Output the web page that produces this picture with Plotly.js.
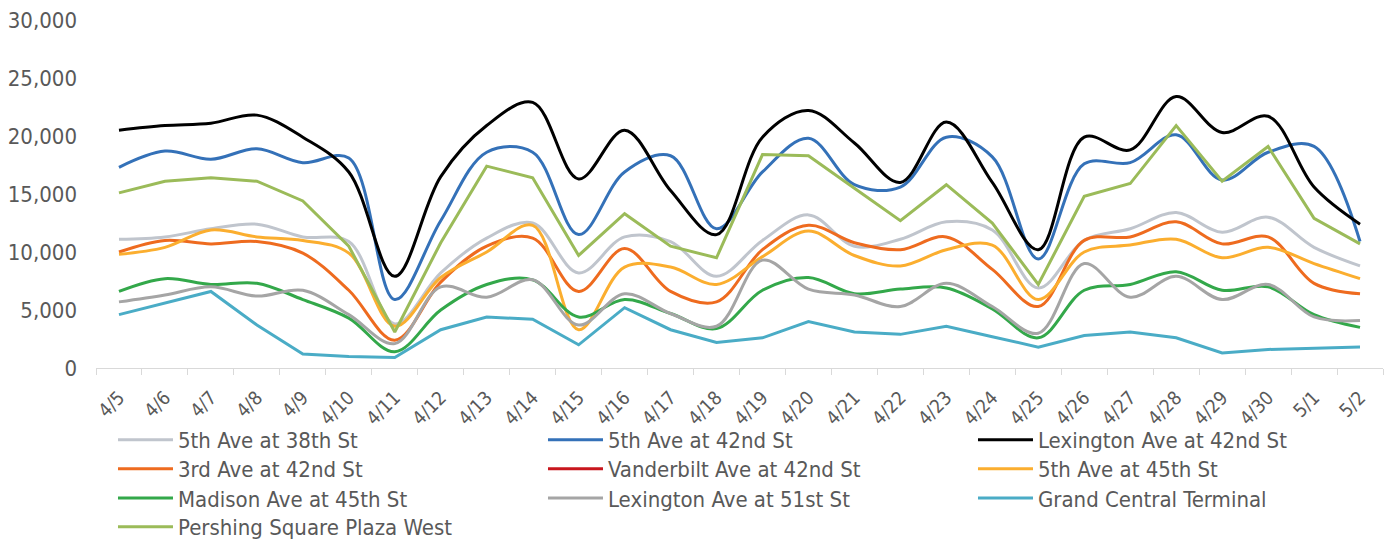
<!DOCTYPE html>
<html>
<head>
<meta charset="utf-8">
<script src="https://cdn.plot.ly/plotly-3.0.1.min.js"></script>
<style>html,body{margin:0;padding:0;background:#fff;}#chart{width:1390px;height:541px;}</style>
</head>
<body>
<div id="chart"></div>
<script>
var dates = ["4/5","4/6","4/7","4/8","4/9","4/10","4/11","4/12","4/13","4/14","4/15","4/16","4/17","4/18","4/19","4/20","4/21","4/22","4/23","4/24","4/25","4/26","4/27","4/28","4/29","4/30","5/1","5/2"];

var fifth38 = [11100,11300,12000,12400,11300,10900,3800,8200,11200,12500,8200,11300,10900,7900,11000,13200,10500,11100,12600,11900,6900,11000,12000,13400,11700,13000,10400,8800];
var fifth42 = [17300,18700,18000,18900,17700,18100,5900,12700,18600,18600,11500,16900,18300,12000,16900,19800,15800,15600,19900,18200,9400,17600,17700,20100,16200,18600,19100,10900];
var lex42 = [20500,20900,21100,21800,19900,16900,7900,16500,20900,22900,16300,20500,15300,11500,19900,22200,19400,16000,21200,16000,10200,19900,18800,23400,20300,21700,15600,12400];
var third42 = [10000,11000,10700,10900,9900,6700,2400,7400,10500,11200,6600,10300,6600,5700,10200,12300,10800,10200,11300,8500,5300,11000,11300,12600,10700,11300,7300,6400];
var vanderbilt42 = [null,null,null,null,null,null,null,null,null,null,null,null,null,null,null,null,null,null,null,null,null,null,null,null,null,null,null,null];
var fifth45 = [9800,10400,11900,11300,11000,9900,3600,7800,10000,12300,3300,8700,8700,7200,9600,11800,9700,8800,10200,10600,5900,10000,10600,11100,9500,10400,9000,7700];
var madison45 = [6600,7700,7200,7300,5900,4300,1400,5000,7200,7600,4400,5900,4700,3400,6700,7800,6400,6800,6900,5100,2600,6700,7200,8300,6700,7000,4600,3500];
var lex51 = [5700,6300,7000,6200,6700,4600,2100,7000,6100,7600,3700,6400,4700,3600,9300,6800,6300,5300,7300,5300,3000,9000,6100,7900,5900,7200,4400,4100];
var grandCentral = [4600,5600,6600,3700,1200,1000,900,3300,4400,4200,2000,5200,3300,2200,2600,4000,3100,2900,3600,2700,1800,2800,3100,2600,1300,1600,1700,1800];
var pershing = [15100,16100,16400,16100,14400,10500,3100,10800,17400,16400,9700,13300,10500,9500,18400,18300,15500,12700,15800,12500,7200,14800,15900,20900,16100,19100,12900,10700];

var seriesNames = ["5th Ave at 38th St","5th Ave at 42nd St","Lexington Ave at 42nd St","3rd Ave at 42nd St","Vanderbilt Ave at 42nd St","5th Ave at 45th St","Madison Ave at 45th St","Lexington Ave at 51st St","Grand Central Terminal","Pershing Square Plaza West"];
var seriesValues = [fifth38,fifth42,lex42,third42,vanderbilt42,fifth45,madison45,lex51,grandCentral,pershing];
var seriesColors = ["#c0c5cd","#3471b8","#000000","#ee6b1f","#c8161d","#fbae2f","#33a84a","#a5a5a5","#4aacc6","#9bbb59"];
var seriesShapes = ["spline","spline","spline","spline","spline","spline","spline","spline","linear","linear"];
var legendRow = ["legend","legend","legend","legend2","legend2","legend2","legend3","legend3","legend3","legend4"];

var FONT = "DejaVu Sans Condensed, DejaVu Sans, sans-serif";
var TXT = "#595959";

var traces = seriesNames.map(function(n,i){
  var t = {
    x: dates, y: seriesValues[i], name: n, type: "scatter", mode: "lines",
    line: {color: seriesColors[i], width: 3, shape: seriesShapes[i], smoothing: 1},
    legend: legendRow[i], connectgaps: false
  };
  if (i % 3 === 2) t.legendwidth = 250;
  return t;
});

function leg(yp){
  return {orientation:"h", x:0.0132, xanchor:"left", y:yp, yanchor:"middle",
    entrywidth:360, entrywidthmode:"pixels", itemwidth:55,
    font:{family:FONT,size:22,color:TXT}, bgcolor:"rgba(0,0,0,0)", traceorder:"normal"};
}

var layout = {
  width:1390, height:541,
  margin:{l:96,r:7,t:20,b:173,autoexpand:false},
  paper_bgcolor:"#fff", plot_bgcolor:"#fff",
  showlegend:true,
  xaxis:{type:"category", range:[-0.5,27.5], showgrid:false, zeroline:false,
    showline:true, linecolor:"#d9d9d9", linewidth:1,
    ticks:"outside", tickson:"boundaries", ticklen:6, tickcolor:"#d9d9d9",
    tickangle:-45, ticklabelstandoff:10,
    tickfont:{family:FONT,size:19,color:TXT}},
  yaxis:{range:[0,30000], dtick:5000, tickformat:",d", showgrid:false, zeroline:false,
    showline:false, ticks:"", ticklabelstandoff:18,
    tickfont:{family:FONT,size:22,color:TXT}},
  legend:leg(-0.207),
  legend2:leg(-0.290),
  legend3:leg(-0.374),
  legend4:leg(-0.457)
};

Plotly.newPlot("chart", traces, layout, {displayModeBar:false, staticPlot:true});
</script>
</body>
</html>
